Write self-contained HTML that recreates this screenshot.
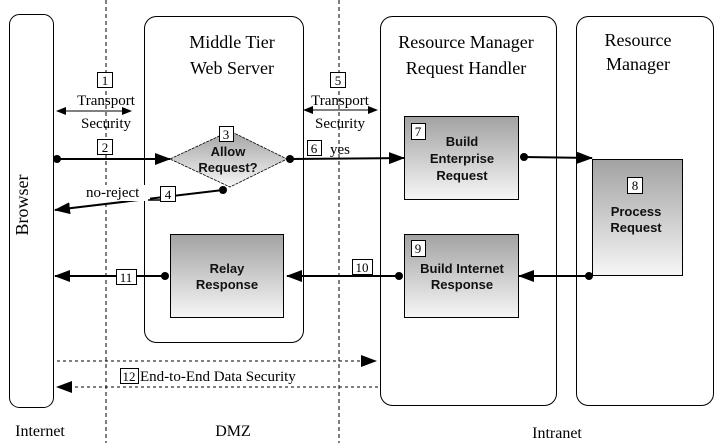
<!DOCTYPE html>
<html><head><meta charset="utf-8"><style>
html,body{margin:0;padding:0;background:#fff;}
svg{display:block;}
text{font-family:"Liberation Serif",serif;fill:#000;}
.b{font-family:"Liberation Sans",sans-serif;font-weight:bold;font-size:13px;fill:#111;}
</style></head><body>
<svg width="721" height="443" viewBox="0 0 721 443" xmlns="http://www.w3.org/2000/svg">
<defs>
<linearGradient id="g" x1="0" y1="0" x2="0" y2="1">
<stop offset="0" stop-color="#a2a2a2"/><stop offset="1" stop-color="#f6f6f6"/>
</linearGradient>
<marker id="a" markerWidth="10" markerHeight="8" refX="9" refY="4" orient="auto" markerUnits="userSpaceOnUse"><path d="M0,0 L10,4 L0,8 z" fill="#000"/></marker>
<marker id="a2" markerWidth="16" markerHeight="12" refX="15" refY="6" orient="auto" markerUnits="userSpaceOnUse"><path d="M0,0 L16,6 L0,12 z" fill="#000"/></marker>
</defs>
<!-- dashed zone lines -->
<line x1="106" y1="0" x2="106" y2="443" stroke="#000" stroke-dasharray="4,3"/>
<line x1="339" y1="0" x2="339" y2="443" stroke="#000" stroke-dasharray="4,3"/>
<!-- containers -->
<rect x="9.5" y="14.5" width="44" height="393" rx="10" fill="none" stroke="#000"/>
<rect x="144.5" y="16.5" width="159" height="326" rx="12" fill="none" stroke="#000"/>
<rect x="380.5" y="16.5" width="176" height="389" rx="12" fill="none" stroke="#000"/>
<rect x="576.5" y="16.5" width="137" height="389" rx="12" fill="none" stroke="#000"/>
<text x="28" y="205" font-size="18" transform="rotate(-90 28 205)" text-anchor="middle">Browser</text>
<text x="232" y="48" font-size="18" text-anchor="middle">Middle Tier</text>
<text x="232" y="74" font-size="18" text-anchor="middle">Web Server</text>
<text x="466" y="48" font-size="18" text-anchor="middle">Resource Manager</text>
<text x="466" y="74" font-size="18" text-anchor="middle">Request Handler</text>
<text x="638" y="46" font-size="18" text-anchor="middle">Resource</text>
<text x="638" y="70" font-size="18" text-anchor="middle">Manager</text>
<!-- transport security 1 -->
<rect x="97.5" y="72.5" width="15" height="15" fill="#fff" stroke="#000"/>
<text x="105" y="85" font-size="13" text-anchor="middle">1</text>
<text x="106" y="105" font-size="15" text-anchor="middle" fill="#113">Transport</text>
<line x1="67" y1="111" x2="131" y2="111" stroke="#000" marker-end="url(#a)"/>
<line x1="131" y1="111" x2="57" y2="111" stroke="#000" marker-end="url(#a)"/>
<text x="106" y="128" font-size="15" text-anchor="middle">Security</text>
<!-- transport security 5 -->
<rect x="330.5" y="72.5" width="15" height="15" fill="#fff" stroke="#000"/>
<text x="338" y="85" font-size="13" text-anchor="middle">5</text>
<text x="340" y="105" font-size="15" text-anchor="middle">Transport</text>
<line x1="315" y1="110" x2="377" y2="110" stroke="#000" marker-end="url(#a)"/>
<line x1="370" y1="110" x2="304" y2="110" stroke="#000" marker-end="url(#a)"/>
<text x="340" y="128" font-size="15" text-anchor="middle">Security</text>
<!-- diamond -->
<polygon points="170,159 230,131 287,159 230,187" fill="url(#g)" stroke="#000" stroke-dasharray="3,1" stroke-width="0.8"/>
<rect x="219.5" y="126.5" width="14" height="15" fill="#fff" stroke="#000"/>
<text x="226" y="139" font-size="13" text-anchor="middle">3</text>
<text class="b" x="228" y="156" text-anchor="middle">Allow</text>
<text class="b" x="228" y="172" text-anchor="middle">Request?</text>
<!-- boxes -->
<rect x="404.5" y="116.5" width="114" height="83" fill="url(#g)" stroke="#000"/>
<rect x="411.5" y="123.5" width="14" height="16" fill="#fff" stroke="#000"/>
<text x="418" y="136" font-size="13" text-anchor="middle">7</text>
<text class="b" x="462" y="146" text-anchor="middle">Build</text>
<text class="b" x="462" y="163" text-anchor="middle">Enterprise</text>
<text class="b" x="462" y="180" text-anchor="middle">Request</text>
<rect x="592.5" y="159.5" width="90" height="116" fill="url(#g)" stroke="#000"/>
<rect x="627.5" y="177.5" width="15" height="16" fill="#fff" stroke="#000"/>
<text x="635" y="190" font-size="13" text-anchor="middle">8</text>
<text class="b" x="636" y="216" text-anchor="middle">Process</text>
<text class="b" x="636" y="232" text-anchor="middle">Request</text>
<rect x="170.5" y="234.5" width="113" height="83" fill="url(#g)" stroke="#000"/>
<text class="b" x="227" y="273" text-anchor="middle">Relay</text>
<text class="b" x="227" y="289" text-anchor="middle">Response</text>
<rect x="404.5" y="234.5" width="114" height="83" fill="url(#g)" stroke="#000"/>
<rect x="411.5" y="240.5" width="14" height="16" fill="#fff" stroke="#000"/>
<text x="418" y="253" font-size="13" text-anchor="middle">9</text>
<text class="b" x="462" y="273" text-anchor="middle">Build Internet</text>
<text class="b" x="462" y="289" text-anchor="middle">Response</text>
<!-- arrows -->
<g stroke="#000" stroke-width="2" fill="none">
<line x1="57" y1="159" x2="170" y2="159" marker-end="url(#a2)"/>
<line x1="290" y1="159" x2="404" y2="158" marker-end="url(#a2)"/>
<line x1="524" y1="157" x2="592" y2="158" marker-end="url(#a2)"/>
<line x1="588" y1="276" x2="519" y2="276" marker-end="url(#a2)"/>
<line x1="398" y1="276" x2="287" y2="276" marker-end="url(#a2)"/>
<line x1="164" y1="276" x2="55" y2="276" marker-end="url(#a2)"/>
<line x1="223" y1="190" x2="55" y2="210" marker-end="url(#a2)"/>
</g>
<g fill="#000">
<circle cx="57" cy="159" r="4"/><circle cx="290" cy="159" r="4"/><circle cx="524" cy="157" r="4"/>
<circle cx="589" cy="276" r="4"/><circle cx="399" cy="276" r="4"/><circle cx="165" cy="276" r="4"/>
<circle cx="223" cy="190" r="4"/>
</g>
<!-- labels on arrows -->
<rect x="97.5" y="139.5" width="15" height="15" fill="#fff" stroke="#000"/>
<text x="105" y="152" font-size="13" text-anchor="middle">2</text>
<rect x="307.5" y="140.5" width="14" height="15" fill="#fff" stroke="#000"/>
<text x="314" y="153" font-size="13" text-anchor="middle">6</text>
<text x="330" y="154" font-size="15">yes</text>
<rect x="84" y="185" width="66" height="16" fill="#fff"/>
<text x="86" y="197" font-size="15">no-reject</text>
<line x1="148" y1="200" x2="162" y2="200" stroke="#000" stroke-width="1.5"/>
<rect x="160.5" y="186.5" width="15" height="15" fill="#fff" stroke="#000"/>
<text x="168" y="199" font-size="13" text-anchor="middle">4</text>
<rect x="116.5" y="269.5" width="20" height="15" fill="#fff" stroke="#000"/>
<text x="126" y="282" font-size="13" text-anchor="middle">11</text>
<rect x="352.5" y="259.5" width="20" height="15" fill="#fff" stroke="#000"/>
<text x="362" y="272" font-size="13" text-anchor="middle">10</text>
<!-- end to end -->
<line x1="57" y1="361" x2="376" y2="361" stroke="#000" stroke-dasharray="3,3" marker-end="url(#a2)"/>
<line x1="378" y1="387" x2="57" y2="387" stroke="#000" stroke-dasharray="3,3" marker-end="url(#a2)"/>
<rect x="120.5" y="368.5" width="18" height="15" fill="#fff" stroke="#000"/>
<text x="129" y="381" font-size="13" text-anchor="middle">12</text>
<text x="140" y="381" font-size="15">End-to-End Data Security</text>
<!-- zones -->
<text x="40" y="436" font-size="16" text-anchor="middle">Internet</text>
<text x="233" y="436" font-size="16" text-anchor="middle">DMZ</text>
<text x="557" y="438" font-size="16" text-anchor="middle">Intranet</text>
</svg>
</body></html>
